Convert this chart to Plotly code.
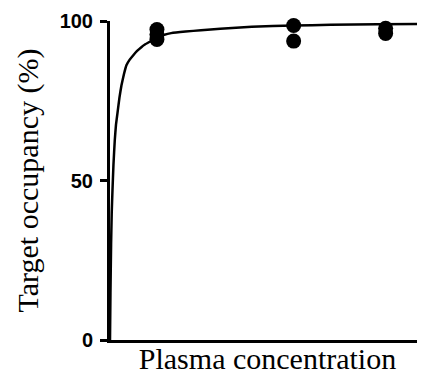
import plotly.graph_objects as go

# Observed data (arbitrary concentration units, occupancy %)
obs_conc = [14.9, 14.9, 14.9, 58.3, 58.3, 87.5, 87.5]
obs_occ = [97.3, 95.8, 94.2, 98.6, 93.7, 97.7, 96.1]

# Fitted curve
fit_conc = [0.0, 0.15, 0.35, 0.55, 0.79, 1.1, 1.52, 1.9, 2.37, 3.0, 3.63, 4.4, 5.21, 6.2, 7.33, 8.6, 9.95, 11.2, 12.48, 14.69, 17.0, 19.43, 24.0, 28.9, 35.0, 45.0, 58.3, 70.0, 85.0, 100.0]
fit_occ = [0.0, 15.0, 30.0, 40.0, 47.0, 55.0, 62.7, 67.5, 71.1, 76.0, 79.8, 83.2, 86.1, 87.8, 89.2, 90.6, 91.8, 92.7, 93.4, 94.8, 95.6, 96.2, 96.7, 97.1, 97.6, 98.2, 98.6, 98.8, 99.0, 99.1]

y_ticks = [0, 50, 100]

serif = "Liberation Serif, Times New Roman, DejaVu Serif, serif"

fig = go.Figure()
fig.add_trace(go.Scatter(x=fit_conc, y=fit_occ, mode="lines",
                         line=dict(color="black", width=2.5, shape="spline", smoothing=0.3),
                         hoverinfo="skip", cliponaxis=False))
fig.add_trace(go.Scatter(x=obs_conc, y=obs_occ, mode="markers",
                         marker=dict(color="black", size=15), cliponaxis=False))

fig.update_layout(
    width=417, height=367,
    margin=dict(l=102, r=0, t=12.5, b=34.5, autoexpand=False),
    plot_bgcolor="white", paper_bgcolor="white",
    showlegend=False,
    xaxis=dict(range=[0, 100], showgrid=False, zeroline=False, automargin=False,
               showline=True, linecolor="black", linewidth=3,
               showticklabels=False, ticks="",
               title=dict(text="Plasma concentration",
                          font=dict(family=serif, size=30, color="black"),
                          standoff=7)),
    yaxis=dict(range=[0, 100], showgrid=False, zeroline=False, automargin=False,
               showline=True, linecolor="black", linewidth=3,
               tickvals=y_ticks, ticktext=[str(v) for v in y_ticks],
               ticks="outside", ticklen=7, tickwidth=3, tickcolor="black",
               ticklabelstandoff=3,
               tickfont=dict(family="Liberation Sans, Arial, sans-serif", size=20, color="black", weight="bold"),
               title=dict(text="Target occupancy (%)",
                          font=dict(family=serif, size=30, color="black"),
                          standoff=13)),
)

fig.write_html("out.html")
